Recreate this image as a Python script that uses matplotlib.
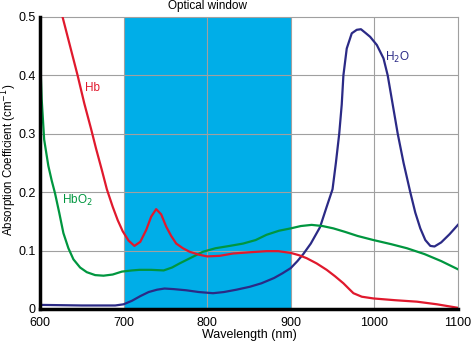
import numpy as np
import matplotlib.pyplot as plt

plt.rcParams['font.family'] = ['Liberation Sans', 'DejaVu Sans']

# Hb (deoxyhaemoglobin)
hb_nm = [627, 636, 645, 653, 661, 667, 674, 680, 687, 693, 699, 706, 713, 720, 727,
         733, 739, 745, 751, 757, 763, 771, 779, 790, 800, 815, 831, 850, 871, 885,
         900, 910, 919, 931, 943, 953, 963, 970, 975, 985, 999, 1025, 1051, 1075, 1100]
hb = [0.50, 0.45, 0.40, 0.352, 0.309, 0.275, 0.238, 0.205, 0.175, 0.152, 0.133, 0.117,
      0.108, 0.115, 0.135, 0.158, 0.171, 0.162, 0.141, 0.125, 0.112, 0.104, 0.098,
      0.093, 0.090, 0.091, 0.095, 0.097, 0.099, 0.099, 0.096, 0.092, 0.087, 0.078,
      0.067, 0.056, 0.044, 0.034, 0.027, 0.021, 0.018, 0.015, 0.0125, 0.008, 0.002]

# HbO2 (oxyhaemoglobin)
hbo2_nm = [600, 600.5, 602, 605, 610, 614, 618, 623, 628, 634, 640, 648, 656, 666, 676,
           687, 698, 710, 719, 733, 748, 758, 767, 781, 795, 810, 827, 843, 858, 871,
           886, 900, 912, 925, 938, 951, 965, 980, 999, 1020, 1039, 1060, 1080, 1100]
hbo2 = [0.50, 0.42, 0.36, 0.29, 0.245, 0.22, 0.198, 0.165, 0.13, 0.104, 0.085, 0.071,
        0.063, 0.058, 0.057, 0.059, 0.064, 0.066, 0.067, 0.067, 0.066, 0.071, 0.078,
        0.088, 0.098, 0.104, 0.108, 0.112, 0.118, 0.127, 0.134, 0.138, 0.142, 0.144,
        0.142, 0.138, 0.132, 0.125, 0.118, 0.111, 0.104, 0.094, 0.082, 0.068]

# water
h2o_nm = [600, 650, 690, 700, 710, 720, 730, 740, 749, 760, 775, 790, 807, 820, 835,
          851, 865, 880, 890, 900, 908, 915, 924, 935, 943, 950, 954, 958, 961, 963,
          967, 973, 979, 984, 990, 995, 1003, 1011, 1016, 1022, 1028, 1035, 1043, 1049,
          1055, 1061, 1067, 1072, 1080, 1090, 1100]
h2o = [0.007, 0.006, 0.006, 0.008, 0.014, 0.022, 0.029, 0.033, 0.035, 0.034, 0.032,
       0.029, 0.027, 0.029, 0.033, 0.038, 0.044, 0.053, 0.061, 0.070, 0.082, 0.094,
       0.112, 0.14, 0.175, 0.205, 0.25, 0.30, 0.35, 0.40, 0.446, 0.472, 0.478, 0.479,
       0.472, 0.466, 0.452, 0.429, 0.40, 0.35, 0.30, 0.25, 0.20, 0.165, 0.138, 0.118,
       0.108, 0.107, 0.114, 0.128, 0.144]

window = (700, 900)

fig = plt.figure(figsize=(4.76, 3.46), dpi=100)
ax = fig.add_axes([0.084, 0.107, 0.878, 0.844])

ax.axvspan(window[0], window[1], color='#00aee8', lw=0, zorder=1)

for x in [700, 800, 900, 1000]:
    ax.axvline(x, color='#a0a0a0', lw=0.8, zorder=2)
for y in [0.1, 0.2, 0.3, 0.4]:
    ax.axhline(y, color='#a0a0a0', lw=0.8, zorder=2)

ax.plot(h2o_nm, h2o, color='#2b2a86', lw=1.6, zorder=3)
ax.plot(hbo2_nm, hbo2, color='#00963f', lw=1.6, zorder=4)
ax.plot(hb_nm, hb, color='#e0192d', lw=1.6, zorder=5)

ax.text(654, 0.378, 'Hb', color='#e0192d', fontsize=8.5, va='center')
ax.text(626, 0.185, 'HbO$_2$', color='#00963f', fontsize=8.5, va='center')
ax.text(1013, 0.431, 'H$_2$O', color='#2b2a86', fontsize=8.5, va='center')
fig.text(ax.get_position().x0 + ax.get_position().width * 0.4, 1 - 5.5 / 346,
         'Optical window', ha='center', va='center', fontsize=8.5)

ax.set_xlim(600, 1100)
ax.set_ylim(0, 0.5)
ax.set_xticks([600, 700, 800, 900, 1000, 1100])
ax.set_yticks([0, 0.1, 0.2, 0.3, 0.4, 0.5])
ax.set_yticklabels(['0', '0.1', '0.2', '0.3', '0.4', '0.5'])
ax.tick_params(length=0, labelsize=9)
ax.tick_params(axis='x', pad=6)
ax.tick_params(axis='y', pad=3)
ax.set_xlabel('Wavelength (nm)', fontsize=9, labelpad=0)
fig.text(9 / 476, 1 - 160 / 346, 'Absorption Coefficient (cm$^{-1}$)',
         rotation=90, ha='center', va='center', fontsize=8.3)

for s in ['top', 'right']:
    ax.spines[s].set_color('#a0a0a0')
    ax.spines[s].set_linewidth(0.8)
for s in ['left', 'bottom']:
    ax.spines[s].set_color('black')
    ax.spines[s].set_linewidth(2.5)
    ax.spines[s].set_zorder(6)

fig.savefig('out.png', dpi=100)
